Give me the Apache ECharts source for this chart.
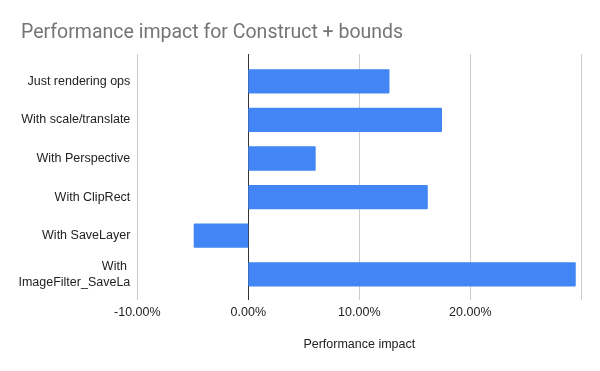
<!DOCTYPE html>
<html><head><meta charset="utf-8">
<script src="https://cdn.jsdelivr.net/npm/echarts@6/dist/echarts.min.js"></script>
<style>html,body{margin:0;padding:0;background:#fff}#c{width:600px;height:371px}</style>
</head><body><div id="c"></div>
<script>
const categories = ["Just rendering ops","With scale/translate","With Perspective","With ClipRect","With SaveLayer","With ImageFilter_SaveLa"];
const values = [0.1272, 0.1745, 0.0607, 0.1617, -0.0492, 0.2950];
const xTicks = [-0.1, 0, 0.1, 0.2, 0.3];
const chartTitle = "Performance impact for Construct + bounds";
const axisTitle = "Performance impact";

const chart = echarts.init(document.getElementById('c'));
const fmt = v => (v >= 0.3 - 1e-9) ? '' : (v * 100).toFixed(2) + '%';
const labelFont = 'Liberation Sans';
chart.setOption({
  animation: false,
  title: { text: chartTitle, left: 16, top: 18, textStyle: { fontFamily: 'Roboto', fontSize: 19.5, fontWeight: 'normal', color: '#757575' } },
  grid: [
    { left: 137.3, right: 18.7, top: 54, bottom: 71, containLabel: false },
    { left: 137.3, right: 18.7, top: 62, bottom: 77.4, containLabel: false }
  ],
  xAxis: [
    { gridIndex: 0, type: 'value', min: xTicks[0], max: xTicks[xTicks.length-1], interval: 0.1,
      axisLine: { show: false }, axisTick: { show: false },
      splitLine: { show: true, lineStyle: { color: ['#cccccc','#333333','#cccccc','#cccccc','#cccccc'], width: 1 } },
      axisLabel: { formatter: fmt, margin: 6, color: '#222', fontFamily: labelFont, fontSize: 12.5 },
      name: axisTitle, nameLocation: 'middle', nameGap: 38,
      nameTextStyle: { color: '#222', fontFamily: labelFont, fontSize: 12.5 } },
    { gridIndex: 1, type: 'value', min: xTicks[0], max: xTicks[xTicks.length-1], interval: 0.1, show: false }
  ],
  yAxis: [
    { gridIndex: 0, type: 'value', show: false, splitLine: { show: false } },
    { gridIndex: 1, type: 'category', data: categories, inverse: true,
      axisLine: { show: false }, axisTick: { show: false }, splitLine: { show: false },
      axisLabel: { margin: 7, color: '#222', fontFamily: labelFont, fontSize: 12.5,
        width: 120, overflow: 'break', lineHeight: 16 } }
  ],
  series: [{
    type: 'bar', xAxisIndex: 1, yAxisIndex: 1, data: values,
    barCategoryGap: '37%',
    itemStyle: { color: '#4285F4', borderRadius: 1 }
  }]
});
</script></body></html>
